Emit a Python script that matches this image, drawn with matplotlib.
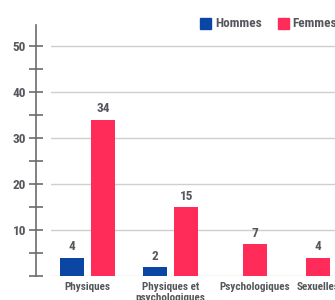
import matplotlib
matplotlib.use("Agg")
import matplotlib.pyplot as plt
from matplotlib.ticker import MultipleLocator

# data
categories = ["Physiques", "Physiques et\npsychologiques", "Psychologiques", "Sexuelles"]
hommes = [4, 2, 0, 0]
femmes = [34, 15, 7, 4]
y_ticks = [10, 20, 30, 40, 50]

BLUE = "#0b46a4"
RED = "#ff2b59"
TEXT = "#55575c"
AXIS = "#6c6c70"
GRID = "#cfcfcf"

plt.rcParams["font.family"] = ["Roboto Condensed", "DejaVu Sans"]
plt.rcParams["font.weight"] = "bold"

fig = plt.figure(figsize=(3.35, 3.0), dpi=100)
# axes in pixel units: left edge 51px, right edge at the picture edge (chart is cropped)
ax = fig.add_axes([51 / 335, 24 / 300, 1 - 51 / 335, 251 / 300])
ax.set_xlim(51, 335)
ax.set_ylim(0, 251 / 4.6)

# category centres and bar geometry (layout only)
centres = [87.2, 170.6, 255, 318]
w, off = 24, 15.7

for c, h, f in zip(centres, hommes, femmes):
    if h > 0:
        ax.bar(c - off, h, w, color=BLUE, zorder=3)
        ax.bar(c + off, f, w, color=RED, zorder=3)
        bars = [(c - off, h), (c + off, f)]
    else:
        ax.bar(c, f, w, color=RED, zorder=3)
        bars = [(c, f)]
    for x, v in bars:
        ax.annotate(str(v), (x, v), xytext=(0, 3), textcoords="offset points",
                    ha="center", va="bottom", fontsize=9.5, fontweight="bold", color=TEXT)

for yv in [0] + y_ticks:
    ax.axhline(yv, color=GRID, lw=1.0, zorder=1)

ax.set_yticks(y_ticks)
ax.yaxis.set_minor_locator(MultipleLocator(5))
ax.tick_params(axis="y", which="both", direction="inout", length=10, width=1.2,
               color=AXIS, labelsize=9.5, labelcolor=TEXT, pad=2)
for lab in ax.get_yticklabels():
    lab.set_fontweight("bold")

ax.spines["left"].set_position(("outward", 11))
ax.spines["left"].set_color(AXIS)
ax.spines["left"].set_linewidth(1.2)
for s in ("top", "right", "bottom"):
    ax.spines[s].set_visible(False)

ax.set_xticks(centres)
ax.set_xticklabels(categories, fontsize=8, fontweight="bold", color=TEXT,
                   linespacing=1.1, va="top")
ax.tick_params(axis="x", length=0, pad=4.5)

# legend, placed like the reference (top right, partially cropped)
fig.patches.append(plt.Rectangle((200 / 335, 1 - 29 / 300), 11 / 335, 11 / 300,
                                 transform=fig.transFigure, color=BLUE))
fig.text(215 / 335, 1 - 23.5 / 300, "Hommes", fontsize=9.5, fontweight="bold",
         color=TEXT, va="center")
fig.patches.append(plt.Rectangle((278 / 335, 1 - 29 / 300), 11 / 335, 11 / 300,
                                 transform=fig.transFigure, color=RED))
fig.text(292 / 335, 1 - 23.5 / 300, "Femmes", fontsize=9.5, fontweight="bold",
         color=TEXT, va="center")

fig.savefig("out.png", dpi=100)
